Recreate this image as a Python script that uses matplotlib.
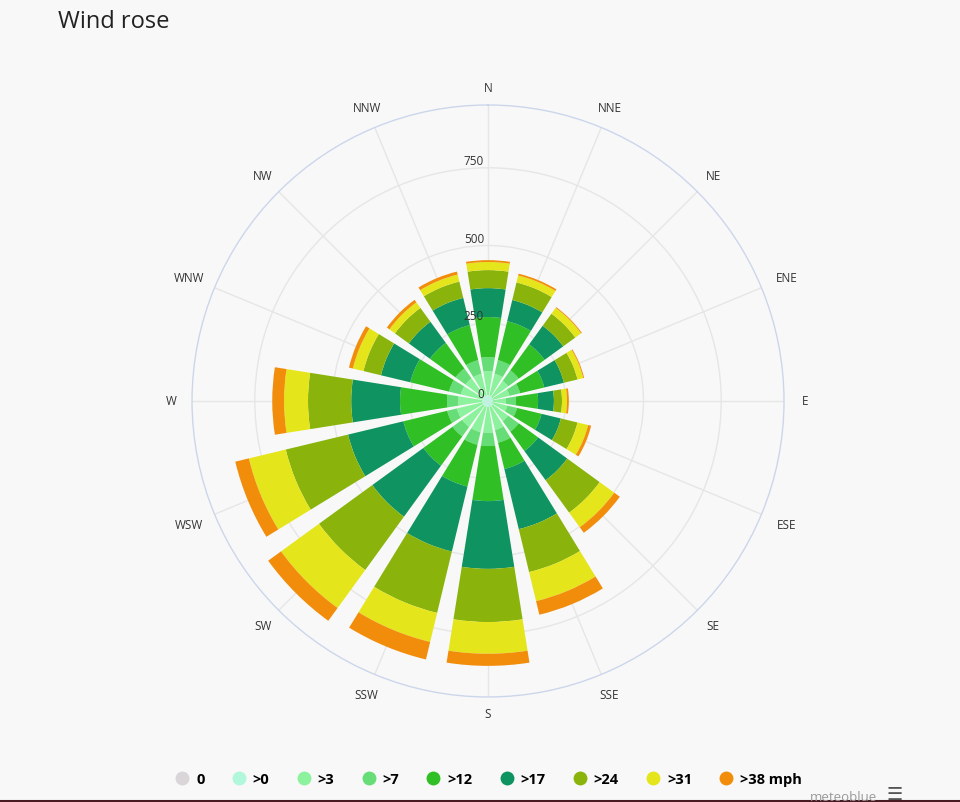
import matplotlib
matplotlib.use('Agg')
import matplotlib.pyplot as plt
import numpy as np
from matplotlib.lines import Line2D

plt.rcParams['font.family'] = ['Open Sans', 'DejaVu Sans']

directions = ['N', 'NNE', 'NE', 'ENE', 'E', 'ESE', 'SE', 'SSE',
              'S', 'SSW', 'SW', 'WSW', 'W', 'WNW', 'NW', 'NNW']
speed_bins = ['0', '>0', '>3', '>7', '>12', '>17', '>24', '>31', '>38 mph']
colors = ['#d9d5d8', '#b0f7dc', '#8df29d', '#66dd77', '#30bf24',
          '#0f9461', '#8ab40c', '#e5e51b', '#f28d0c']

# hours per year from each direction, one list per speed bin
calm = [0] * 16
s0 = [19, 19, 16, 16, 16, 16, 19, 19, 19, 19, 19, 19, 19, 19, 19, 19]
s3 = [77, 71, 64, 55, 42, 48, 61, 77, 84, 84, 84, 84, 77, 71, 71, 71]
s7 = [45, 45, 42, 35, 32, 32, 42, 42, 42, 42, 38, 32, 36, 39, 39, 45]
s12 = [129, 129, 103, 80, 71, 81, 77, 87, 177, 138, 116, 145, 151, 128, 102, 116]
s17 = [93, 70, 74, 65, 51, 64, 116, 199, 218, 215, 203, 183, 157, 97, 84, 90]
s24 = [58, 58, 48, 45, 26, 55, 129, 142, 171, 203, 212, 206, 139, 58, 55, 54]
s31 = [26, 23, 23, 19, 16, 35, 58, 96, 102, 96, 151, 122, 77, 35, 22, 23]
s38 = [6, 6, 3, 3, 6, 10, 22, 45, 39, 58, 51, 45, 38, 13, 10, 10]
series = [calm, s0, s3, s7, s12, s17, s24, s31, s38]

radial_ticks = [0, 250, 500, 750]
r_max = 952

bg = '#f8f8f8'
fig = plt.figure(figsize=(9.6, 8.03), dpi=100, facecolor=bg)
ax = fig.add_axes([0.2, 0.1308, 0.6167, 0.7372], projection='polar')
ax.set_facecolor(bg)
ax.set_theta_zero_location('N')
ax.set_theta_direction(-1)

theta = np.deg2rad(np.arange(len(directions)) * 22.5)
width = 0.8 * 2 * np.pi / len(directions)
bottom = np.zeros(len(directions))
for vals, c in zip(series, colors):
    vals = np.array(vals, dtype=float)
    ax.bar(theta, vals, width=width, bottom=bottom, color=c,
           edgecolor='none', linewidth=0, zorder=2)
    bottom += vals

ax.set_ylim(0, r_max)
ax.set_xticks(theta)
ax.set_xticklabels([])
ax.set_yticks(radial_ticks[1:])
ax.set_yticklabels([])
ax.grid(True, color='#e6e6e6', linewidth=1)
ax.set_axisbelow(True)
ax.spines['polar'].set_color('#ccd6eb')
ax.spines['polar'].set_linewidth(1)
ax.tick_params(length=0)

for r in radial_ticks:
    ax.annotate(str(r), xy=(0, r), xytext=(-4, 1), textcoords='offset pixels',
                ha='right', va='bottom', fontsize=8.5, color='#333333', zorder=5)

px = r_max / 296.0
for t, name in zip(theta, directions):
    rr = (313 + 3.7 * len(name) * abs(np.sin(t))) * px
    ax.text(t, rr, name, ha='center', va='center', fontsize=8.5,
            color='#333333', clip_on=False)

fig.text(58 / 960, 1 - 28 / 803, 'Wind rose', fontsize=17, color='#222222',
         ha='left', va='baseline')

handles = [Line2D([], [], marker='o', linestyle='none', markersize=10,
                  markerfacecolor=c, markeredgecolor='none') for c in colors]
fig.legend(handles, speed_bins, loc='center', bbox_to_anchor=(0.509, 1 - 780 / 803),
           ncol=9, frameon=False, handlelength=1.0, handletextpad=0.45,
           columnspacing=1.85, prop={'weight': 'bold', 'size': 10.5})

fig.text(810 / 960, 1 - 798 / 803, 'meteoblue', fontsize=9.5, color='#999999',
         ha='left', va='center')
fig.text(895 / 960, 1 - 795 / 803, '\u2630', fontsize=13, color='#555555',
         ha='center', va='center', family='DejaVu Sans')
fig.add_artist(Line2D([0, 1], [0.0015, 0.0015], color='#4a1a22', linewidth=1.5))

fig.savefig('out.png', dpi=100, facecolor=bg)
